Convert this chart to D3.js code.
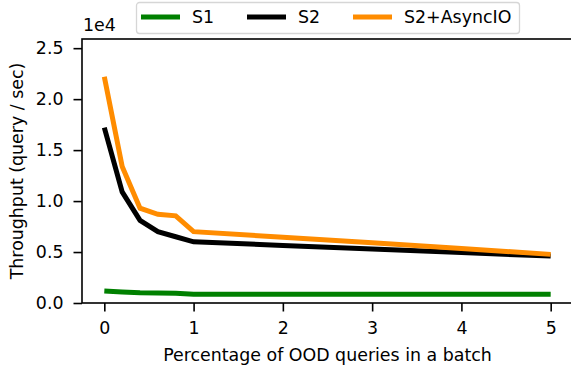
<!DOCTYPE html>
<html>
<head>
<meta charset="utf-8">
<script src="https://cdn.jsdelivr.net/npm/d3@7"></script>
<style>
  body { margin: 0; background: #fff; }
  text { font-family: "DejaVu Sans", sans-serif; fill: #000; }
</style>
</head>
<body>
<div id="chart"></div>
<script>
const width = 571;
const height = 370;

// data (throughput in units of 1e4 query/sec)
var xs = [0, 0.2, 0.4, 0.6, 0.8, 1, 2, 3, 4, 5];
var s1 = [0.118, 0.108, 0.100, 0.099, 0.095, 0.087, 0.086, 0.085, 0.085, 0.085];
var s2 = [1.72, 1.09, 0.81, 0.70, 0.65, 0.60, 0.565, 0.53, 0.495, 0.46];
var s2async = [2.22, 1.34, 0.93, 0.87, 0.855, 0.70, 0.645, 0.59, 0.535, 0.477];

var seriesNames = ["S1", "S2", "S2+AsyncIO"];
var seriesColors = ["#008000", "#000000", "#ff8c00"];
var xTicks = [0, 1, 2, 3, 4, 5];
var yTicks = [0, 0.5, 1.0, 1.5, 2.0, 2.5];

const plotL = 82, plotR = 573, plotT = 39, plotB = 303;

var svg = d3.select("#chart").append("svg")
  .attr("width", width).attr("height", height);

var x = d3.scaleLinear().domain([-0.25, 5.25]).range([plotL, plotR]);
var y = d3.scaleLinear().domain([0, 2.59]).range([plotB, plotT]);

var fs = "17.4px";

// lines
var line = d3.line().x((d) => x(d[0])).y((d) => y(d[1]));
[s1, s2, s2async].forEach((vals, i) => {
  svg.append("path")
    .datum(xs.map((v, j) => [v, vals[j]]))
    .attr("d", line)
    .attr("fill", "none")
    .attr("stroke", seriesColors[i])
    .attr("stroke-width", 5)
    .attr("stroke-linejoin", "miter");
});

// axes
var xAxis = svg.append("g")
  .attr("transform", `translate(0,${plotB})`)
  .call(d3.axisBottom(x).tickValues(xTicks).tickFormat(d3.format("d")).tickSize(8.5).tickPadding(10));
var yAxis = svg.append("g")
  .attr("transform", `translate(${plotL},0)`)
  .call(d3.axisLeft(y).tickValues(yTicks).tickFormat(d3.format(".1f")).tickSize(8.5).tickPadding(10));

[xAxis, yAxis].forEach((g) => {
  g.select(".domain").remove();
  g.selectAll("line").attr("stroke", "#000").attr("stroke-width", 1.6);
  g.selectAll("text").style("font-size", fs).attr("font-family", "DejaVu Sans");
});

// frame
svg.append("rect")
  .attr("x", plotL).attr("y", plotT)
  .attr("width", plotR - plotL).attr("height", plotB - plotT)
  .attr("fill", "none").attr("stroke", "#000").attr("stroke-width", 1.6);

// offset text
svg.append("text")
  .attr("x", 83).attr("y", 31)
  .style("font-size", fs)
  .text("1e4");

// axis labels
svg.append("text")
  .attr("x", (plotL + plotR) / 2).attr("y", 361)
  .attr("text-anchor", "middle")
  .style("font-size", fs)
  .text("Percentage of OOD queries in a batch");

svg.append("text")
  .attr("transform", `translate(23,${(plotT + plotB) / 2}) rotate(-90)`)
  .attr("text-anchor", "middle")
  .style("font-size", fs)
  .text("Throughput (query / sec)");

// legend
var legend = svg.append("g");
legend.append("rect")
  .attr("x", 136.5).attr("y", 2.5)
  .attr("width", 383).attr("height", 31)
  .attr("rx", 3)
  .attr("fill", "#fff").attr("fill-opacity", 0.8)
  .attr("stroke", "#d6d6d6").attr("stroke-width", 1.3);

var legX = [141, 247, 353];
seriesNames.forEach((name, i) => {
  legend.append("line")
    .attr("x1", legX[i]).attr("x2", legX[i] + 39)
    .attr("y1", 17).attr("y2", 17)
    .attr("stroke", seriesColors[i]).attr("stroke-width", 5);
  legend.append("text")
    .attr("x", legX[i] + 51).attr("y", 23.4)
    .style("font-size", fs)
    .text(name);
});
</script>
</body>
</html>
